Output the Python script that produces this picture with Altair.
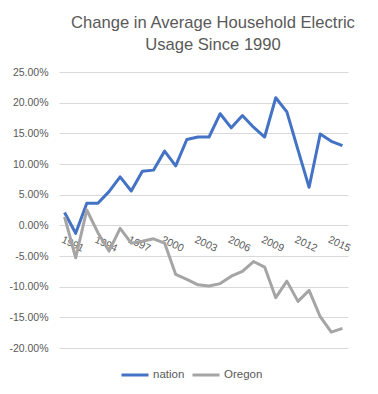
import altair as alt
import pandas as pd

# ---- data ----
years = list(range(1991, 2017))
nation = [2.1, -1.3, 3.6, 3.6, 5.5, 7.9, 5.6, 8.8, 9.0, 12.1, 9.7, 14.0, 14.4,
          14.4, 18.2, 15.9, 17.9, 16.0, 14.4, 20.8, 18.5, 12.3, 6.2, 14.9, 13.7, 13.0]
oregon = [1.4, -5.3, 2.5, -1.2, -4.2, -0.5, -2.9, -2.6, -2.2, -2.9, -8.0, -8.8, -9.7,
          -9.9, -9.5, -8.3, -7.5, -5.9, -6.8, -11.8, -9.1, -12.4, -10.6, -14.9, -17.4, -16.8]
series_names = ["nation", "Oregon"]
series_colors = ["#4472C4", "#A5A5A5"]
x_tick_labels = [1991, 1994, 1997, 2000, 2003, 2006, 2009, 2012, 2015]
y_ticks = [-0.20, -0.15, -0.10, -0.05, 0.0, 0.05, 0.10, 0.15, 0.20, 0.25]
title_lines = ["Change in Average Household Electric", "Usage Since 1990"]

df_n = pd.DataFrame({"year": years, "value": [v / 100 for v in nation], "series": "nation"})
df_o = pd.DataFrame({"year": years, "value": [v / 100 for v in oregon], "series": "Oregon"})

FONT = "Liberation Sans"
TXT = "#595959"
W, H = 289, 276
YMIN, YMAX = -0.20, 0.25
# put the category axis where y = 0 crosses
x_axis_offset = H * (YMAX - 0) / (YMAX - YMIN) - H

x_enc = alt.X(
    "year:O",
    scale=alt.Scale(type="point", padding=0.5),
    axis=alt.Axis(
        values=x_tick_labels, title=None, domain=False, ticks=False, grid=False,
        labelAngle=25, labelAlign="left", labelBaseline="top", labelPadding=9,
        labelFont=FONT, labelFontSize=10.5, labelColor=TXT, offset=x_axis_offset,
        labelOffset=-1,
    ),
)
y_enc = alt.Y(
    "value:Q",
    scale=alt.Scale(domain=[YMIN, YMAX], nice=False, zero=False),
    axis=alt.Axis(
        values=y_ticks, title=None, domain=False, ticks=False,
        labelExpr="replace(format(datum.value, '.2%'), '\u2212', '-')",
        labelFont=FONT, labelFontSize=10.5, labelColor=TXT, labelPadding=11,
        gridColor="#D9D9D9", gridWidth=1,
    ),
)
color_enc = alt.Color(
    "series:N",
    scale=alt.Scale(domain=series_names, range=series_colors),
    title=None,
    legend=alt.Legend(
        orient="none", direction="horizontal", legendX=61, legendY=288,
        symbolType="stroke", symbolStrokeWidth=3, symbolSize=729,
        labelFont=FONT, labelFontSize=11.5, labelColor=TXT, labelOffset=3,
        columnPadding=1,
    ),
)

line_n = alt.Chart(df_n).mark_line(strokeWidth=3, strokeJoin="round").encode(x=x_enc, y=y_enc, color=color_enc)
line_o = alt.Chart(df_o).mark_line(strokeWidth=3, strokeJoin="round").encode(x=x_enc, y=y_enc, color=color_enc)

chart = alt.layer(line_n, line_o).properties(
    width=W, height=H,
    title=alt.TitleParams(
        text=title_lines, font=FONT, fontSize=16.6, fontWeight="normal", color=TXT,
        anchor="middle", dx=9.5, lineHeight=22, offset=13,
    ),
    autosize=alt.AutoSizeParams(type="none"),
    padding={"left": 51, "top": 64, "right": 22, "bottom": 38},
).configure_view(strokeWidth=0)

chart.save("out.html", embed_options={"renderer": "svg", "actions": False})
